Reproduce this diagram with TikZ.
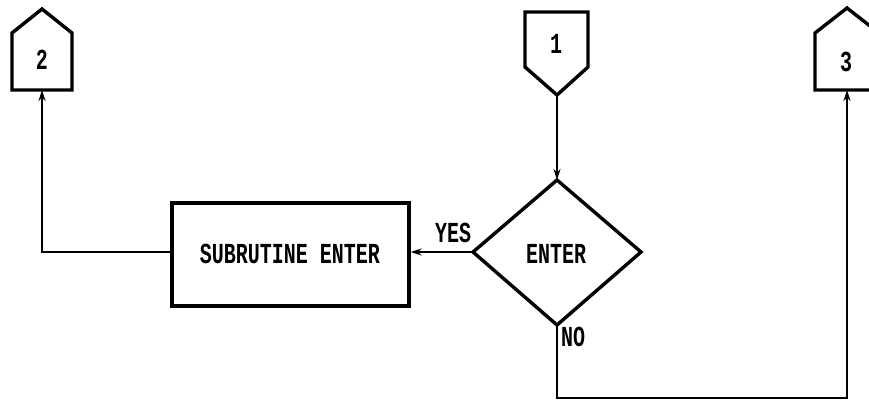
\documentclass[tikz,border=0pt]{standalone}
\usepackage{fontspec}
\usepackage{graphicx}
\setmonofont{Liberation Mono}
\usetikzlibrary{arrows.meta}
\newcommand{\dm}[1]{\scalebox{1}[1.45]{\ttfamily\bfseries #1}}
\tikzset{
  thickshape/.style={line width=3.4pt, line join=miter},
  conn/.style={line width=1.6pt},
  arr/.style={conn, -{Stealth[length=11pt,width=7pt]}},
  lbl/.style={inner sep=0pt, font=\fontsize{20}{20}\selectfont},
}
\begin{document}
\begin{tikzpicture}[x=1pt,y=-1pt]
\useasboundingbox (0,0) rectangle (869,405);
% off-page connector 2
\draw[thickshape] (12,90) -- (12,33) -- (42,9) -- (72,33) -- (72,90) -- cycle;
\coordinate (c2b) at (42,90);
\node[lbl] (c2) at (42,60) {\dm{2}};
% off-page connector 1
\draw[thickshape] (525,12) -- (588,12) -- (588,67) -- (557,95) -- (525,67) -- cycle;
\coordinate (c1b) at (557,95);
\node[lbl] (c1) at (556,44) {\dm{1}};
% off-page connector 3
\draw[thickshape] (815,90) -- (815,33) -- (847,8) -- (879,33) -- (879,90) -- cycle;
\coordinate (c3b) at (847,90);
\node[lbl] (c3) at (846,62) {\dm{3}};
% process box
\node[draw, thickshape, minimum width=237pt, minimum height=103pt, inner sep=0pt] (box) at (290.5,254.5) {};
\node[lbl] (boxt) at (290,254) {\dm{SUBRUTINE ENTER}};
% decision diamond
\coordinate (dt) at (557,180);
\coordinate (dr) at (641,252);
\coordinate (db) at (557,325);
\coordinate (dl) at (473,252);
\draw[thickshape] (dt) -- (dr) -- (db) -- (dl) -- cycle;
\node[lbl] (dtext) at (556,254) {\dm{ENTER}};
% connectors
\draw[arr] (c1b) -- (dt);
\draw[arr] (dl) -- (box.east |- dl);
\node[lbl] (yes) at (453,233) {\dm{YES}};
\coordinate (k2) at (42,252);
\draw[arr] (box.west |- k2) -- (k2) -- (c2b);
\coordinate (kn1) at (557,398);
\coordinate (kn2) at (847,398);
\draw[arr] (db) -- (kn1) -- (kn2) -- (c3b);
\node[lbl] (no) at (573,337) {\dm{NO}};
\end{tikzpicture}
\end{document}
